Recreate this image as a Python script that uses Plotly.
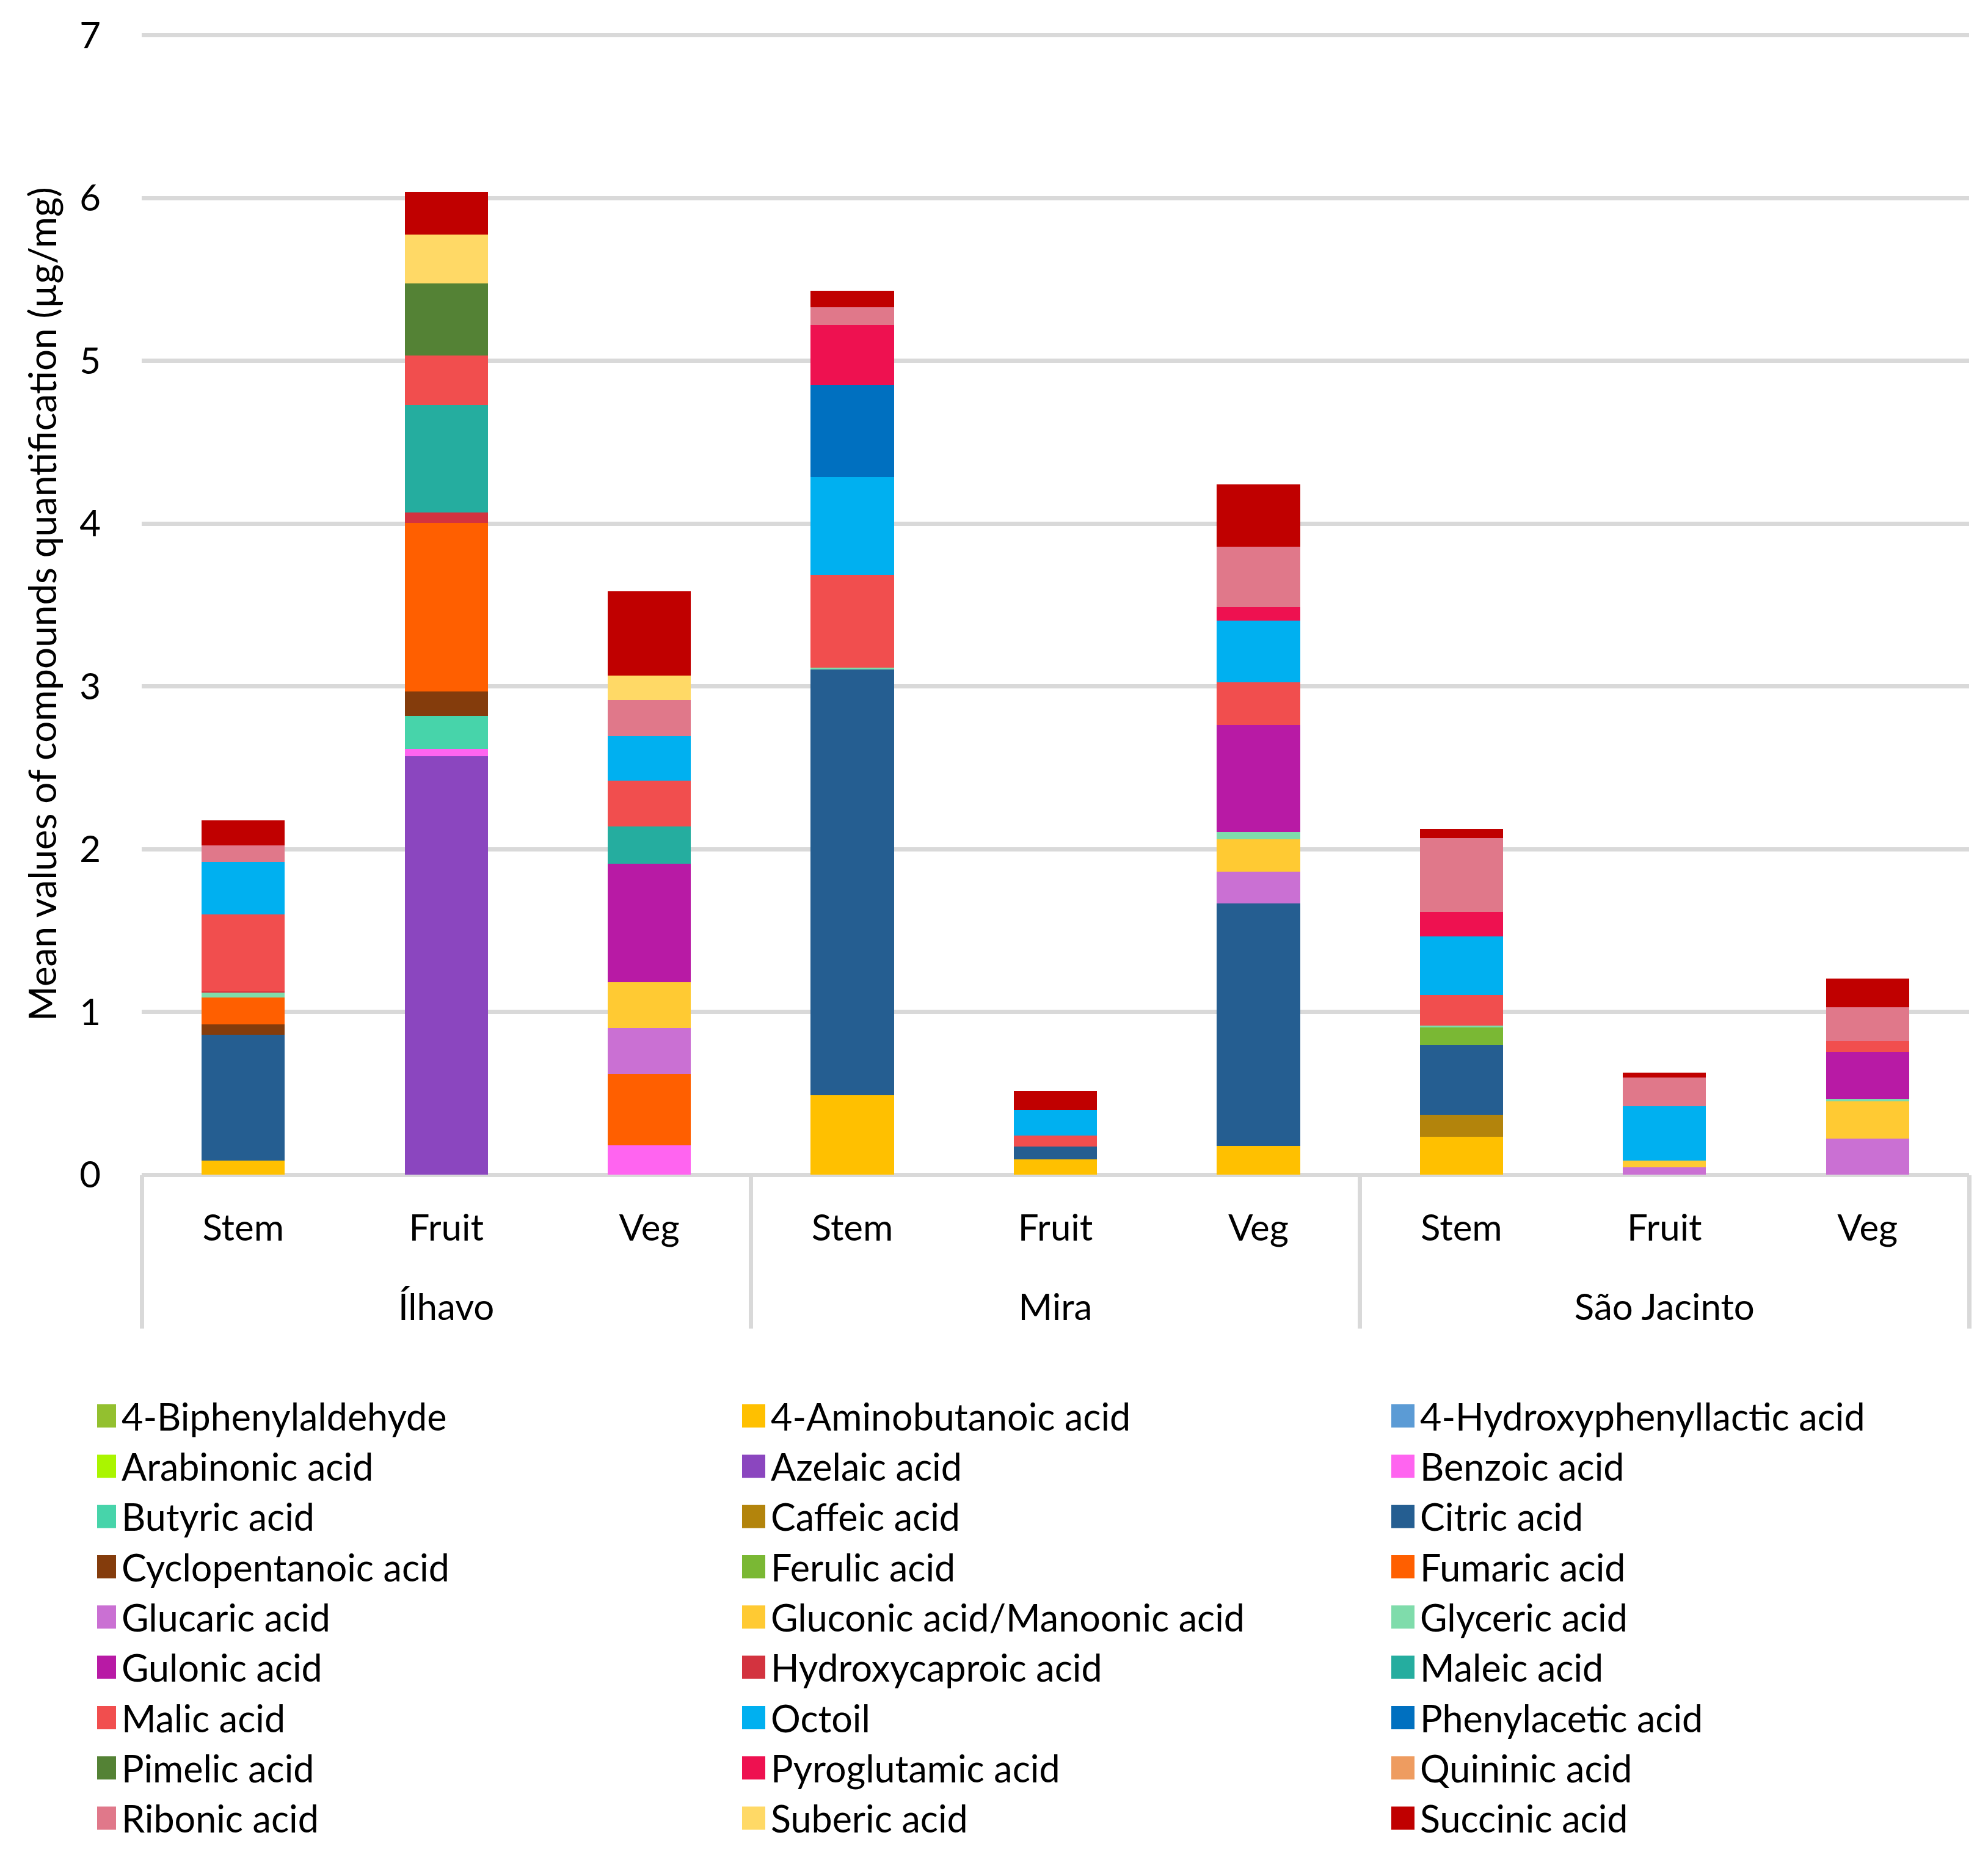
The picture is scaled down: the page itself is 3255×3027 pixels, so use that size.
import plotly.graph_objects as go

sites = ["Ílhavo"] * 3 + ["Mira"] * 3 + ["São Jacinto"] * 3
tissues = ["Stem", "Fruit", "Veg"] * 3

compounds = [
    "4-Biphenylaldehyde", "4-Aminobutanoic acid", "4-Hydroxyphenyllactic acid",
    "Arabinonic acid", "Azelaic acid", "Benzoic acid",
    "Butyric acid", "Caffeic acid", "Citric acid",
    "Cyclopentanoic acid", "Ferulic acid", "Fumaric acid",
    "Glucaric acid", "Gluconic acid/Manoonic acid", "Glyceric acid",
    "Gulonic acid", "Hydroxycaproic acid", "Maleic acid",
    "Malic acid", "Octoil", "Phenylacetic acid",
    "Pimelic acid", "Pyroglutamic acid", "Quininic acid",
    "Ribonic acid", "Suberic acid", "Succinic acid",
]

# values per compound: Ílhavo Stem/Fruit/Veg, Mira Stem/Fruit/Veg, São Jacinto Stem/Fruit/Veg
biphenylaldehyde = [0, 0, 0, 0, 0, 0, 0, 0, 0]
aminobutanoic = [0.088, 0, 0, 0.488, 0.094, 0.177, 0.233, 0, 0]
hydroxyphenyllactic = [0, 0, 0, 0, 0, 0, 0, 0, 0]
arabinonic = [0, 0, 0, 0, 0, 0, 0, 0, 0]
azelaic = [0, 2.571, 0, 0, 0, 0, 0, 0, 0]
benzoic = [0, 0.044, 0.179, 0, 0, 0, 0, 0, 0]
butyric = [0, 0.203, 0, 0, 0, 0, 0, 0, 0]
caffeic = [0, 0, 0, 0, 0, 0, 0.135, 0, 0]
citric = [0.77, 0, 0, 2.616, 0.077, 1.489, 0.428, 0, 0]
cyclopentanoic = [0.064, 0.151, 0, 0, 0, 0, 0, 0, 0]
ferulic = [0, 0, 0, 0, 0, 0, 0.11, 0, 0]
fumaric = [0.167, 1.035, 0.44, 0, 0, 0, 0, 0, 0]
glucaric = [0, 0, 0.281, 0, 0, 0.196, 0, 0.045, 0.221]
gluconic = [0, 0, 0.283, 0, 0, 0.199, 0, 0.042, 0.23]
glyceric = [0.03, 0, 0, 0.011, 0, 0.046, 0.01, 0, 0.015]
gulonic = [0, 0, 0.726, 0, 0, 0.655, 0, 0, 0.288]
hydroxycaproic = [0.008, 0.064, 0, 0, 0, 0, 0, 0, 0]
maleic = [0, 0.66, 0.23, 0, 0, 0, 0, 0, 0]
malic = [0.47, 0.306, 0.281, 0.572, 0.068, 0.262, 0.186, 0, 0.068]
octoil = [0.326, 0, 0.276, 0.597, 0.159, 0.381, 0.36, 0.333, 0]
phenylacetic = [0, 0, 0, 0.568, 0, 0, 0, 0, 0]
pimelic = [0, 0.442, 0, 0, 0, 0, 0, 0, 0]
pyroglutamic = [0, 0, 0, 0.369, 0, 0.083, 0.15, 0, 0]
quininic = [0, 0, 0, 0, 0, 0, 0, 0, 0]
ribonic = [0.1, 0, 0.22, 0.109, 0, 0.37, 0.455, 0.178, 0.207]
suberic = [0, 0.298, 0.15, 0, 0, 0, 0, 0, 0]
succinic = [0.155, 0.263, 0.518, 0.101, 0.117, 0.381, 0.056, 0.03, 0.177]

series = [
    biphenylaldehyde, aminobutanoic, hydroxyphenyllactic,
    arabinonic, azelaic, benzoic,
    butyric, caffeic, citric,
    cyclopentanoic, ferulic, fumaric,
    glucaric, gluconic, glyceric,
    gulonic, hydroxycaproic, maleic,
    malic, octoil, phenylacetic,
    pimelic, pyroglutamic, quininic,
    ribonic, suberic, succinic,
]

colors = [
    "#93C02F", "#FFC000", "#5B9BD5",
    "#AAF500", "#8B46BF", "#FF64F0",
    "#47D4AA", "#B3840C", "#255E91",
    "#843C0C", "#7AB834", "#FF5F00",
    "#CA70D3", "#FFCA33", "#7FDCAB",
    "#B81AA5", "#D3333F", "#25AD9F",
    "#F14E4E", "#00B0F0", "#0070C0",
    "#548235", "#EE1150", "#EE9C60",
    "#E0788A", "#FFD966", "#C00000",
]

FONT = "Lato"
# tissue labels get a trailing (tall, blank) line so the site labels sit lower
tissue_labels = [t + "<br><span style='font-size:146px'> </span>" for t in tissues]

fig = go.Figure()
for name, vals, col in zip(compounds, series, colors):
    fig.add_trace(go.Bar(
        x=[sites, tissue_labels], y=vals, name=name,
        marker=dict(color=col, line=dict(width=0)),
    ))

fig.update_layout(
    barmode="stack",
    bargap=0.59,
    width=3255, height=3027,
    margin=dict(l=224, r=39, t=47, b=1112, autoexpand=False),
    paper_bgcolor="white", plot_bgcolor="white",
    font=dict(family=FONT, size=60, color="black"),
    legend=dict(
        orientation="h",
        traceorder="normal",
        x=-0.0244, xanchor="left",
        y=-0.1868, yanchor="top",
        entrywidth=1018,
        font=dict(family=FONT, size=61, color="black"),
        itemclick=False,
    ),
    showlegend=True,
)
fig.update_yaxes(
    range=[0, 7.01], dtick=1, tick0=0,
    showgrid=True, gridcolor="#D9D9D9", gridwidth=7,
    zeroline=True, zerolinecolor="#D9D9D9", zerolinewidth=7,
    showline=False, ticks="",
    ticklabelstandoff=66,
    tickfont=dict(family=FONT, size=60),
    title=dict(text="Mean values of compounds quantification (µg/mg)",
               font=dict(family=FONT, size=62), standoff=17),
)
fig.update_xaxes(
    type="multicategory",
    showgrid=False, ticks="", showline=False,
    showdividers=True, dividercolor="#D9D9D9", dividerwidth=7,
    tickfont=dict(family=FONT, size=60),
    ticklabelstandoff=47,
)

post = """
var gd = document.getElementById('{plot_id}');
function bigSwatches(){
  gd.querySelectorAll('g.legendpoints path').forEach(function(p){
    var d = p.getAttribute('d') || '';
    if (d.indexOf('M6,6H-6V-6H6Z') === 0 || p.classList.contains('legendbar')) {
      p.setAttribute('d', 'M11,19H-27V-19H11Z');
    }
  });
}
bigSwatches();
gd.on('plotly_afterplot', bigSwatches);
setTimeout(bigSwatches, 200);
setTimeout(bigSwatches, 1000);
"""
fig.write_html("out.html", post_script=post)
